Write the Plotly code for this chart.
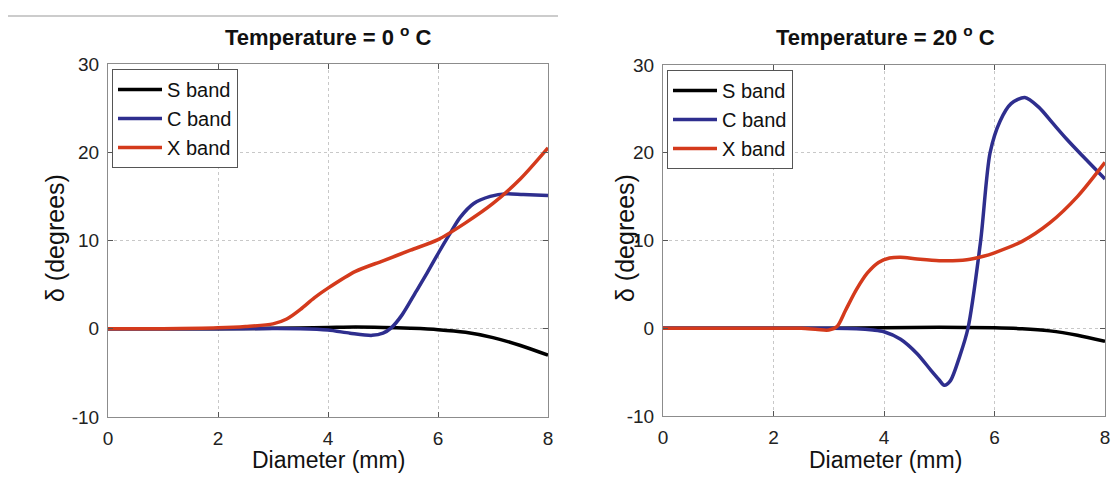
import plotly.graph_objects as go

# ---------------- data ----------------
# Temperature = 0 °C
s0_x = [0, 1, 2, 3, 4, 4.5, 5, 5.5, 6, 6.5, 7, 7.5, 8]
s0_y = [0, 0, 0, 0.05, 0.15, 0.2, 0.15, 0.05, -0.1, -0.4, -1.0, -1.9, -3.0]

c0_x = [0, 1, 2, 3, 3.5, 4.0, 4.4, 4.8, 5.0, 5.15, 5.35, 5.6, 5.8, 6.0, 6.2, 6.4, 6.65, 6.95, 7.25, 7.55, 8.0]
c0_y = [0, 0, 0, 0.02, 0.0, -0.15, -0.5, -0.75, -0.5, 0.1, 1.6, 4.2, 6.3, 8.5, 10.6, 12.6, 14.2, 15.0, 15.3, 15.2, 15.1]

x0_x = [0, 1, 2, 2.5, 3.0, 3.25, 3.5, 3.75, 4.0, 4.5, 5.0, 5.5, 6.0, 6.5, 7.0, 7.5, 8.0]
x0_y = [0, 0, 0.1, 0.25, 0.55, 1.1, 2.2, 3.5, 4.6, 6.5, 7.7, 8.9, 10.1, 12.0, 14.2, 17.0, 20.5]

# Temperature = 20 °C
s20_x = [0, 1, 2, 3, 4, 5, 6, 6.5, 7, 7.5, 8]
s20_y = [0, 0, 0, 0, 0.05, 0.1, 0.05, -0.05, -0.3, -0.8, -1.5]

c20_x = [0, 1, 2, 3, 3.5, 3.8, 4.0, 4.3, 4.6, 4.85, 5.0, 5.09, 5.2, 5.37, 5.52, 5.75, 5.92,
         6.1, 6.3, 6.55, 6.8, 7.05, 7.3, 7.6, 8.0]
c20_y = [0, 0, 0, 0, -0.05, -0.2, -0.4, -1.25, -2.9, -4.8, -5.9, -6.5, -6.0, -3.2, 0, 10, 20,
         23.6, 25.6, 26.3, 25.2, 23.4, 21.6, 19.6, 17.0]

x20_x = [0, 1, 2, 2.5, 2.8, 3.0, 3.15, 3.3, 3.5, 3.7, 3.9, 4.1, 4.3, 4.6, 5.0, 5.5, 5.8, 6.0,
         6.5, 7.0, 7.5, 8.0]
x20_y = [0, 0, 0, 0, -0.15, -0.2, 0.2, 2.0, 4.4, 6.3, 7.5, 8.0, 8.1, 7.9, 7.7, 7.8, 8.2, 8.6,
         9.9, 12.0, 15.0, 18.9]

band_names = ["S band", "C band", "X band"]
band_colors = ["#000000", "#2e2e8e", "#d43a1c"]
titles = ["Temperature = 0 <sup>o</sup> C", "Temperature = 20 <sup>o</sup> C"]
x_ticks = [0, 2, 4, 6, 8]
y_ticks = [-10, 0, 10, 20, 30]
y_tick_text = ["-10", "0", "10", "20", "30"]

# ---------------- figure ----------------
W, H = 1114, 481
FONT = "Liberation Sans, Arial, sans-serif"

fig = go.Figure()

panels = [
    ([s0_x, c0_x, x0_x], [s0_y, c0_y, x0_y], "x", "y", "legend"),
    ([s20_x, c20_x, x20_x], [s20_y, c20_y, x20_y], "x2", "y2", "legend2"),
]
for xs, ys, xa, ya, lg in panels:
    for name, col, xv, yv in zip(band_names, band_colors, xs, ys):
        fig.add_trace(go.Scatter(
            x=xv, y=yv, mode="lines", name=name, xaxis=xa, yaxis=ya, legend=lg,
            line=dict(color=col, width=3.5, shape="spline", smoothing=0.8),
        ))

def px_x(p):
    return p / W

def px_y(p):
    return 1 - p / H

axis_common = dict(
    showline=True, linecolor="#8c8c8c", linewidth=1, mirror="ticks",
    ticks="inside", ticklen=5, tickcolor="#555555",
    showgrid=True, gridcolor="#c8c8c8", griddash="dot", gridwidth=1,
    zeroline=False, automargin=False,
    tickfont=dict(family=FONT, size=19, color="#222222"),
)

legend_common = dict(xanchor="left", yanchor="top",
                     bordercolor="#555555", borderwidth=1, bgcolor="white",
                     font=dict(family=FONT, size=20, color="#111111"),
                     tracegroupgap=0, itemwidth=44)

fig.update_layout(
    width=W, height=H, autosize=False,
    margin=dict(l=0, r=0, t=0, b=0, pad=0, autoexpand=False),
    paper_bgcolor="white", plot_bgcolor="white",
    font=dict(family=FONT, color="#111111"),
    xaxis=dict(domain=[px_x(108), px_x(548)], range=[0, 8], tickvals=x_ticks,
               anchor="y", ticklabelstandoff=4, **axis_common),
    yaxis=dict(domain=[px_y(417), px_y(64)], range=[-10, 30], tickvals=y_ticks,
               ticktext=y_tick_text, anchor="x", ticklabelstandoff=4, **axis_common),
    xaxis2=dict(domain=[px_x(663), px_x(1105)], range=[0, 8], tickvals=x_ticks,
                anchor="y2", ticklabelstandoff=4, **axis_common),
    yaxis2=dict(domain=[px_y(416), px_y(65)], range=[-10, 30], tickvals=y_ticks,
                ticktext=y_tick_text, anchor="x2", ticklabelstandoff=4, **axis_common),
    legend=dict(x=px_x(112), y=px_y(69), **legend_common),
    legend2=dict(x=px_x(667), y=px_y(70), **legend_common),
    showlegend=True,
)

annotations = []
for cx, ttl, ylx in [(328, titles[0], 55), (885, titles[1], 625)]:
    annotations.append(dict(x=px_x(cx), y=px_y(36), xref="paper", yref="paper",
                            text="<b>" + ttl + "</b>", showarrow=False,
                            font=dict(family=FONT, size=22, color="#111111"),
                            xanchor="center", yanchor="middle"))
    annotations.append(dict(x=px_x(cx), y=px_y(460), xref="paper", yref="paper",
                            text="Diameter (mm)", showarrow=False,
                            font=dict(family=FONT, size=23, color="#111111"),
                            xanchor="center", yanchor="middle"))
    annotations.append(dict(x=px_x(ylx), y=px_y(238), xref="paper", yref="paper",
                            text="δ (degrees)", showarrow=False, textangle=-90,
                            font=dict(family=FONT, size=25, color="#111111"),
                            xanchor="center", yanchor="middle"))
fig.update_layout(annotations=annotations)

# thin grey rule at the very top of the image
fig.add_shape(type="line", xref="paper", yref="paper",
              x0=px_x(8), x1=px_x(558), y0=px_y(16), y1=px_y(16),
              line=dict(color="#cccccc", width=2))

fig.write_html("out.html")
